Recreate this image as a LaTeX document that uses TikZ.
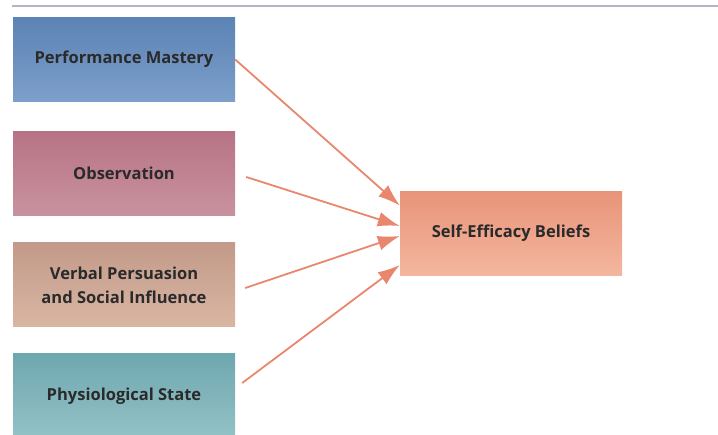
\documentclass[tikz,border=0pt]{standalone}
\usepackage{fontspec}
\setmainfont{Open Sans}
\usetikzlibrary{arrows.meta}

\definecolor{pmtop}{HTML}{5B83B5}
\definecolor{pmbot}{HTML}{7D9FCA}
\definecolor{obtop}{HTML}{B77385}
\definecolor{obbot}{HTML}{C9929F}
\definecolor{vptop}{HTML}{C39A89}
\definecolor{vpbot}{HTML}{D9B6A3}
\definecolor{pstop}{HTML}{6FA7AF}
\definecolor{psbot}{HTML}{93C2C6}
\definecolor{setop}{HTML}{E8947A}
\definecolor{sebot}{HTML}{F4B69E}
\definecolor{arrowc}{HTML}{E8876D}
\definecolor{rulec}{HTML}{B4B4C4}
\definecolor{textc}{HTML}{2A2A2A}

\begin{document}
\begin{tikzpicture}[x=1pt,y=-1pt,>={Latex[length=22pt,width=15pt]},
  factor/.style={rectangle,minimum width=222pt,minimum height=84pt,inner sep=1pt,
    align=center,text=textc,font=\fontsize{16.5}{24}\selectfont\bfseries},
  link/.style={->,draw=arrowc,fill=arrowc,line width=1.8pt}]
\useasboundingbox (0,0) rectangle (718,435);
\draw[rulec,line width=1.2pt] (12,6) -- (718,6);
%
\node[factor,top color=pmtop,bottom color=pmbot] (pm) at (124,59.5) {Performance Mastery};
\node[factor,top color=obtop,bottom color=obbot] (ob) at (124,173.5) {Observation};
\node[factor,top color=vptop,bottom color=vpbot] (vp) at (124,285) {Verbal Persuasion\\and Social Influence};
\node[factor,top color=pstop,bottom color=psbot] (ps) at (124,396) {Physiological State};
%%
\node[factor,top color=setop,bottom color=sebot] (se) at (511,233.5) {Self-Efficacy Beliefs};
%%
\draw[link] (pm.east) -- ([yshift=28pt]se.west);
\draw[link] ([xshift=11pt,yshift=-3.5pt]ob.east) -- ([yshift=7.5pt]se.west);
\draw[link] ([xshift=10pt,yshift=-3pt]vp.east) -- ([yshift=-2.5pt]se.west);
\draw[link] ([xshift=7pt,yshift=13pt]ps.east) -- ([yshift=-31.5pt]se.west);
\end{tikzpicture}
\end{document}
